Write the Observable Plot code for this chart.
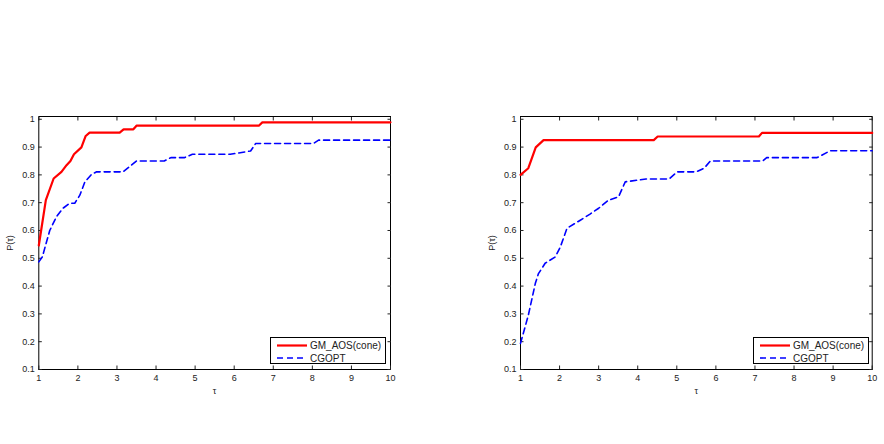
<!DOCTYPE html>
<html>
<head>
<meta charset="utf-8">
<script src="https://cdn.jsdelivr.net/npm/d3@7"></script>
<script src="https://cdn.jsdelivr.net/npm/@observablehq/plot@0.6"></script>
<style>
  html, body { margin: 0; padding: 0; background: #fff; }
  #wrap { position: relative; width: 884px; height: 444px; display: flex; }
  .panel { position: relative; width: 442px; height: 444px; }
  .legend { position: absolute; }
</style>
</head>
<body>
<div id="wrap"></div>
<script>
// ---- data ----
const seriesNames = ["GM_AOS(cone)", "CGOPT"];
const seriesColors = ["#ff0000", "#0000ff"];
const xTicks = [1, 2, 3, 4, 5, 6, 7, 8, 9, 10];
const yTicks = [0.1, 0.2, 0.3, 0.4, 0.5, 0.6, 0.7, 0.8, 0.9, 1];

// left panel
const leftGmTau = [1, 1.18, 1.38, 1.58, 1.71, 1.81, 1.9, 2.09, 2.2, 2.3, 3.07, 3.17, 3.42, 3.5, 6.63, 6.72, 10];
const leftGmP   = [0.546, 0.709, 0.787, 0.811, 0.835, 0.85, 0.874, 0.899, 0.94, 0.952, 0.952, 0.964, 0.964, 0.977, 0.977, 0.989, 0.989];
const leftCgTau = [1, 1.09, 1.28, 1.45, 1.62, 1.79, 1.92, 2.05, 2.18, 2.35, 2.48, 3.16, 3.5, 4.21, 4.38, 4.72, 4.93, 5.9, 6.42, 6.55, 8.03, 8.16, 10];
const leftCgP   = [0.487, 0.505, 0.6, 0.649, 0.68, 0.698, 0.698, 0.727, 0.775, 0.802, 0.811, 0.811, 0.85, 0.85, 0.862, 0.862, 0.874, 0.874, 0.886, 0.913, 0.913, 0.925, 0.925];

// right panel
const rightGmTau = [1, 1.2, 1.39, 1.59, 4.41, 4.51, 7.1, 7.18, 10];
const rightGmP   = [0.8, 0.824, 0.899, 0.925, 0.925, 0.938, 0.938, 0.951, 0.951];
const rightCgTau = [1, 1.2, 1.38, 1.46, 1.63, 1.89, 2.02, 2.19, 2.53, 2.78, 3.0, 3.25, 3.51, 3.68, 4.21, 4.8, 5.01, 5.5, 5.7, 5.86, 7.2, 7.3, 8.59, 8.93, 10];
const rightCgP   = [0.194, 0.295, 0.41, 0.445, 0.482, 0.505, 0.541, 0.608, 0.637, 0.659, 0.68, 0.709, 0.721, 0.775, 0.785, 0.785, 0.811, 0.811, 0.824, 0.85, 0.85, 0.862, 0.862, 0.887, 0.887];

function rows(taus, ps) { return taus.map((t, i) => ({tau: t, p: ps[i]})); }

const FONT = "'Liberation Sans', Arial, Helvetica, sans-serif";

function makePanel(gm, cg, marginLeft, marginRight) {
  return Plot.plot({
    width: 442,
    height: 444,
    marginTop: 116,
    marginBottom: 75,
    marginLeft,
    marginRight,
    style: {fontFamily: FONT, fontSize: "9px", color: "#222", background: "white"},
    x: {domain: [1, 10]},
    y: {domain: [0.1, 1.01]},
    marks: [
      Plot.frame({stroke: "#000", strokeWidth: 1}),
      Plot.axisX({anchor: "bottom", ticks: xTicks, tickSize: -3.5, tickPadding: 9, tickFormat: d => String(d),
                  fontSize: 9, label: "τ", labelAnchor: "center", labelOffset: 24, labelArrow: "none"}),
      Plot.axisX({anchor: "top", ticks: xTicks, tickSize: -3.5, tickFormat: () => "", label: null}),
      Plot.axisY({anchor: "left", ticks: yTicks, tickSize: -3.5, tickPadding: 7.5, tickFormat: d => String(d),
                  fontSize: 9, label: "P(τ)", labelAnchor: "center", labelOffset: 32, labelArrow: "none"}),
      Plot.axisY({anchor: "right", ticks: yTicks, tickSize: -3.5, tickFormat: () => "", label: null}),
      Plot.line(cg, {x: "tau", y: "p", stroke: seriesColors[1], strokeWidth: 1.6, strokeDasharray: "6,4"}),
      Plot.line(gm, {x: "tau", y: "p", stroke: seriesColors[0], strokeWidth: 2.2})
    ]
  });
}

function makeLegend(left, top) {
  const w = 115, h = 26;
  const svg = d3.create("svg").attr("class", "legend").attr("width", w + 2).attr("height", h + 2)
    .style("left", left + "px").style("top", top + "px");
  svg.append("rect").attr("x", 0.5).attr("y", 0.5).attr("width", w).attr("height", h)
    .attr("fill", "white").attr("stroke", "#000").attr("stroke-width", 1);
  seriesNames.forEach((name, i) => {
    const cy = 8.5 + i * 12.5;
    svg.append("line").attr("x1", 7).attr("x2", 37).attr("y1", cy).attr("y2", cy)
      .attr("stroke", seriesColors[i]).attr("stroke-width", i === 0 ? 2.2 : 1.6)
      .attr("stroke-dasharray", i === 0 ? null : "6,4");
    svg.append("text").attr("x", 40).attr("y", cy).attr("dy", "0.35em")
      .attr("font-family", FONT).attr("font-size", 10).attr("fill", "#222").text(name);
  });
  return svg.node();
}

const wrap = document.getElementById("wrap");
const p1 = document.createElement("div"); p1.className = "panel";
const p2 = document.createElement("div"); p2.className = "panel";
p1.appendChild(makePanel(rows(leftGmTau, leftGmP), rows(leftCgTau, leftCgP), 38.3, 52));
p1.appendChild(makeLegend(269.5, 336.5));
p2.appendChild(makePanel(rows(rightGmTau, rightGmP), rows(rightCgTau, rightCgP), 78, 12.3));
p2.appendChild(makeLegend(310.5, 336.5));
wrap.appendChild(p1); wrap.appendChild(p2);
</script>
</body>
</html>
